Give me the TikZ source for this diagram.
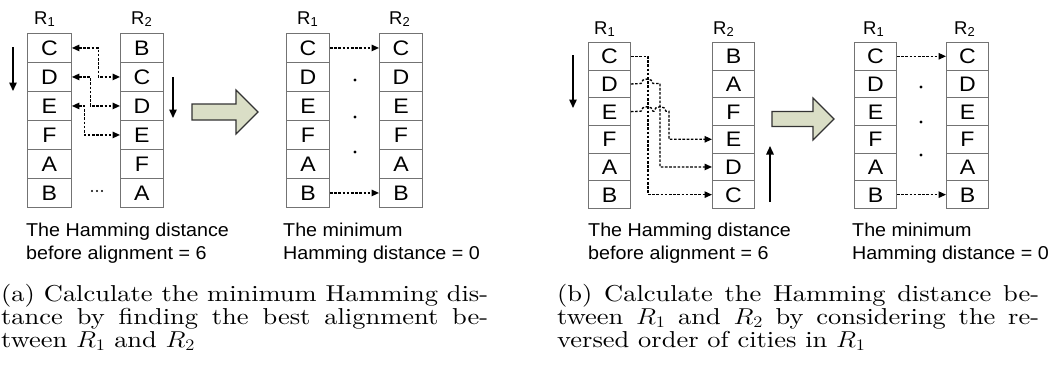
\RequirePackage{fix-cm}
\documentclass[tikz,border=0pt]{standalone}
\usepackage{graphicx}
\usepackage{fontspec}
\setmainfont{lmroman10-regular.otf}[ItalicFont=lmroman10-italic.otf,BoldFont=lmroman10-bold.otf]
\newfontfamily\arialf{Liberation Sans}
\usetikzlibrary{arrows.meta}
\definecolor{arrowfill}{RGB}{218,222,198}
\definecolor{cellline}{RGB}{115,115,115}
\newcommand\wide[1]{\scalebox{1.1}[1]{#1}}
\newcommand\htx[1]{\scalebox{1.06}[1]{#1}}
\newcommand\capline[2]{\scalebox{1.15}[1]{\makebox[#1][s]{#2}}}
\newcommand\capend[1]{\scalebox{1.15}[1]{#1}}
\newcommand\mkcol[6]{%
  \foreach \L [count=\i] in {#6}{%
    \node[cell, minimum height=#4pt, minimum width=#5pt, anchor=north west] (#1\i) at (#2,{#3+(\i-1)*#4}) {\wide{\L}};}}
\tikzset{
  cell/.style={draw=cellline, line width=0.9pt, inner sep=0pt, font=\arialf\fontsize{21}{25}\selectfont, text height=15pt, text depth=0pt},
  rlab/.style={anchor=base west, inner sep=0pt, font=\arialf\fontsize{18.5}{21}\selectfont},
  htext/.style={anchor=base west, inner sep=0pt, font=\arialf\fontsize{18.6}{23}\selectfont},
  capt/.style={anchor=base west, inner sep=0pt, font=\fontsize{23}{23}\selectfont},
  dasharr/.style={line width=1.3pt, dash pattern=on 2.6pt off 1.6pt, -{Triangle[length=7.5pt,width=6.5pt]}},
  dasharrboth/.style={line width=1.3pt, dash pattern=on 2.6pt off 1.6pt, {Triangle[length=7.5pt,width=6.5pt]}-{Triangle[length=7.5pt,width=6.5pt]}},
  solidarr/.style={line width=1.4pt, -{Triangle[length=8.5pt,width=7.5pt]}},
  bigarrow/.style={fill=arrowfill, draw=black!80, line width=1.1pt, line join=miter},
}
\begin{document}
\begin{tikzpicture}[x=1pt,y=-1pt]
\fill[white] (0,0) rectangle (1056,376);
% ---------- panel (a) ----------
\mkcol{aA}{27}{33}{29}{44}{C,D,E,F,A,B}
\mkcol{aB}{120}{33}{29}{43}{B,C,D,E,F,A}
\mkcol{aC}{286}{33}{29}{43}{C,D,E,F,A,B}
\mkcol{aD}{379}{33}{29}{43}{C,D,E,F,A,B}
\node[rlab] (laA) at (34,24) {R\textsubscript{1}};
\node[rlab] (laB) at (131,24) {R\textsubscript{2}};
\node[rlab] (laC) at (297,24) {R\textsubscript{1}};
\node[rlab] (laD) at (389,24) {R\textsubscript{2}};
\draw[dasharrboth] (aA1.east) -- ++(26.5,0) |- (aB2.west);
\draw[dasharrboth] (aA2.east) -- ++(18.5,0) |- (aB3.west);
\draw[dasharrboth] (aA3.east) -- ++(12.5,0) |- (aB4.west);
\draw[dasharr] (aC1.east) -- (aD1.west);
\draw[dasharr] (aC6.east) -- (aD6.west);
\coordinate (sa1) at (13,47); \coordinate (sa2) at (13,91);
\draw[solidarr] (sa1) -- (sa2);
\coordinate (sb1) at (173,77); \coordinate (sb2) at (173,118);
\draw[solidarr] (sb1) -- (sb2);
\foreach \xx in {92,97,102} \fill (\xx,191) circle (1.1);
\foreach \yy in {80,117,152} \fill (355,\yy) circle (1.7);
\draw[bigarrow] (192,104) -- (236,104) -- (236,90) -- (258,112) -- (236,134) -- (236,120) -- (192,120) -- cycle;
\node[htext] (ha1) at (26,236) {\htx{The Hamming distance}};
\node[htext] (ha2) at (26,259) {\htx{before alignment = 6}};
\node[htext] (ha3) at (283,236) {\htx{The minimum}};
\node[htext] (ha4) at (283,259) {\htx{Hamming distance = 0}};
\node[capt] (ca1) at (1,301) {\capline{423.5pt}{(a) Calculate the minimum Hamming dis-}};
\node[capt] (ca2) at (1,324) {\capline{423.5pt}{tance by finding the best alignment be-}};
\node[capt] (ca3) at (1,347) {\capend{tween $R_1$ and $R_2$}};
% ---------- panel (b) ----------
\mkcol{bA}{588}{42}{27.67}{42}{C,D,E,F,A,B}
\mkcol{bB}{712}{42}{27.67}{42}{B,A,F,E,D,C}
\mkcol{bC}{854}{42}{27.67}{42}{C,D,E,F,A,B}
\mkcol{bD}{946}{42}{27.67}{42}{C,D,E,F,A,B}
\node[rlab] (lbA) at (594,34) {R\textsubscript{1}};
\node[rlab] (lbB) at (713,34) {R\textsubscript{2}};
\node[rlab] (lbC) at (863,34) {R\textsubscript{1}};
\node[rlab] (lbD) at (954,34) {R\textsubscript{2}};
\draw[dasharr] (bA1.east) -- ++(17,0) |- (bB6.west);
\draw[dasharr] (bA2.east) -- (641,83.5) .. controls (641,77.5) and (653,77.5) .. (653,83.5) -- (660,83.5) |- (bB5.west);
\draw[dasharr] (bA3.east) -- (641,111.2) .. controls (641,105.2) and (653,105.2) .. (653,111.2) -- (654,111.2) .. controls (654,105.2) and (666,105.2) .. (666,111.2) -- (669,111.2) |- (bB4.west);
\draw[dasharr] (bC1.east) -- (bD1.west);
\draw[dasharr] (bC6.east) -- (bD6.west);
\coordinate (sc1) at (573,55); \coordinate (sc2) at (573,108);
\draw[solidarr] (sc1) -- (sc2);
\coordinate (sd1) at (770,202); \coordinate (sd2) at (770,146);
\draw[solidarr] (sd1) -- (sd2);
\foreach \yy in {87,122,155} \fill (921,\yy) circle (1.7);
\draw[bigarrow] (772,111.5) -- (813,111.5) -- (813,98) -- (834,119) -- (813,140) -- (813,126.5) -- (772,126.5) -- cycle;
\node[htext] (hb1) at (588,236) {\htx{The Hamming distance}};
\node[htext] (hb2) at (588,259) {\htx{before alignment = 6}};
\node[htext] (hb3) at (852,236) {\htx{The minimum}};
\node[htext] (hb4) at (852,259) {\htx{Hamming distance = 0}};
\node[capt] (cb1) at (557,301) {\capline{419.1pt}{(b) Calculate the Hamming distance be-}};
\node[capt] (cb2) at (557,324) {\capline{419.1pt}{tween $R_1$ and $R_2$ by considering the re-}};
\node[capt] (cb3) at (557,347) {\capend{versed order of cities in $R_1$}};
\end{tikzpicture}
\end{document}
